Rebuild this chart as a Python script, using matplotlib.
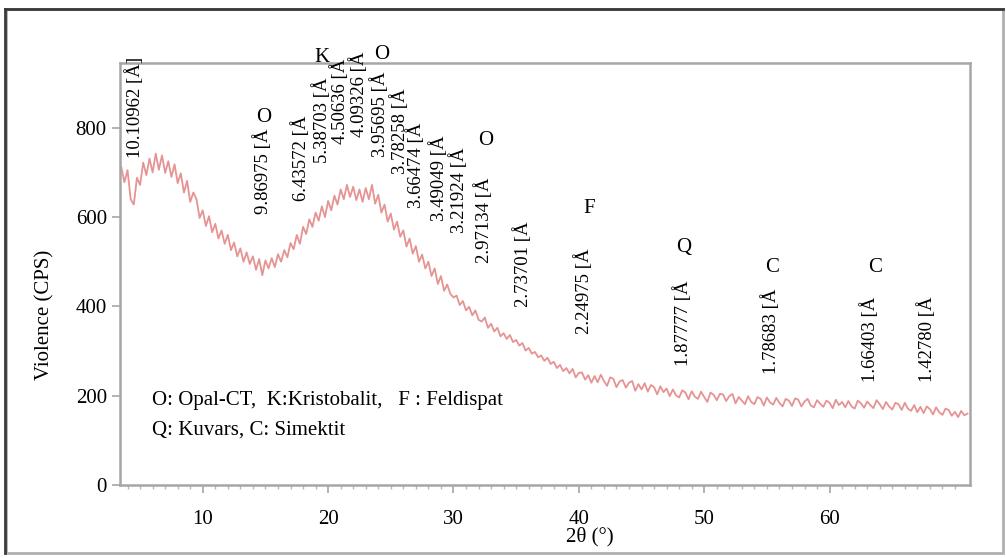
import matplotlib
matplotlib.use('Agg')
import matplotlib.pyplot as plt
import numpy as np
from matplotlib.patches import Rectangle
from matplotlib.lines import Line2D

# XRD pattern, 0.25 deg steps from 3.5 to 71.0
two_theta = np.arange(3.5, 71.0 + 0.001, 0.25)
cps = [
   712, 678, 705, 640, 628, 688, 672, 722,
   694, 731, 700, 742, 706, 738, 699, 725,
   690, 718, 676, 698, 655, 681, 634, 655,
   640, 598, 615, 580, 602, 566, 585, 552,
   570, 540, 560, 526, 543, 512, 530, 500,
   521, 495, 512, 482, 506, 470, 503, 485,
   508, 488, 517, 500, 526, 510, 542, 528,
   560, 540, 578, 562, 595, 578, 610, 592,
   624, 600, 636, 615, 648, 628, 662, 640,
   672, 645, 668, 638, 662, 634, 665, 640,
   672, 630, 650, 610, 628, 590, 608, 572,
   590, 556, 570, 534, 552, 518, 535, 500,
   516, 485, 500, 468, 485, 450, 468, 435,
   449, 428, 420, 424, 403, 412, 391, 399,
   380, 391, 370, 366, 375, 352, 361, 344,
   352, 333, 340, 327, 336, 320, 325, 312,
   318, 301, 307, 294, 298, 286, 290, 278,
   285, 271, 276, 262, 269, 255, 262, 250,
   260, 241, 251, 252, 236, 246, 229, 244,
   230, 247, 233, 222, 241, 238, 219, 232,
   235, 218, 229, 233, 211, 226, 214, 228,
   209, 224, 219, 203, 221, 208, 216, 199,
   214, 201, 196, 212, 207, 192, 210, 198,
   193, 209, 197, 186, 207, 202, 190, 204,
   203, 188, 199, 204, 183, 197, 189, 181,
   199, 186, 181, 197, 193, 178, 196, 185,
   180, 195, 184, 176, 193, 189, 177, 194,
   191, 176, 187, 193, 178, 174, 190, 182,
   175, 189, 184, 172, 191, 179, 186, 174,
   188, 176, 171, 189, 183, 173, 187, 179,
   172, 190, 181, 170, 186, 176, 169, 184,
   181, 168, 184, 171, 166, 179, 163, 175,
   161, 176, 170, 158, 174, 163, 157, 171,
   168, 155, 164, 152, 166, 156, 160,
]

# peak labels: d-spacing text, 2theta position, top of label (CPS)
peak_text = ['10.10962 [Å]', '9.86975 [Å', '6.43572 [Å', '5.38703 [Å', '4.50636 [Å',
             '4.09326 [Å', '3.95695 [Å', '3.78258 [Å', '3.66474 [Å', '3.49049 [Å',
             '3.21924 [Å', '2.97134 [Å', '2.73701 [Å', '2.24975 [Å', '1.87777 [Å',
             '1.78683 [Å', '1.66403 [Å', '1.42780 [Å']
peak_x = [4.6, 14.8, 17.8, 19.5, 20.9, 22.4, 24.1, 25.7, 27.0, 28.8,
          30.4, 32.4, 35.5, 40.4, 48.3, 55.3, 63.2, 67.7]
peak_top = [958, 798, 828, 913, 954, 970, 926, 889, 811, 782,
            757, 690, 591, 531, 459, 441, 421, 423]

# phase letters
phase_text = ['K', 'O', 'O', 'O', 'F', 'Q', 'C', 'C']
phase_x = [19.5, 24.3, 14.9, 32.6, 40.8, 48.4, 55.4, 63.6]
phase_y = [958, 963, 824, 772, 620, 531, 488, 486]

legend_lines = ['O: Opal-CT,  K:Kristobalit,   F : Feldispat',
                'Q: Kuvars, C: Simektit']

plt.rcParams['font.family'] = ['Liberation Serif', 'DejaVu Serif']

fig = plt.figure(figsize=(10.06, 5.58), dpi=100)
ax = fig.add_axes([0.1193, 0.1308, 0.8449, 0.7563])

ax.plot(two_theta, cps, color='#d64b4b', lw=1.3, alpha=0.6)

for t, x, y in zip(peak_text, peak_x, peak_top):
   ax.text(x, y, t, rotation=90, ha='center', va='top', fontsize=13.5, clip_on=False)
for t, x, y in zip(phase_text, phase_x, phase_y):
   ax.text(x, y, t, ha='center', va='center', fontsize=15, clip_on=False)

ax.text(5.95, 190, legend_lines[0], ha='left', va='center', fontsize=15)
ax.text(5.95, 123, legend_lines[1], ha='left', va='center', fontsize=15)

ax.set_xlim(3.4, 71.2)
ax.set_ylim(0, 945)
ax.set_xticks([10, 20, 30, 40, 50, 60])
ax.set_xticks(np.arange(4, 71, 1), minor=True)
ax.set_yticks([0, 200, 400, 600, 800])

for s in ax.spines.values():
   s.set_color('#a6a6a6')
   s.set_linewidth(1.8)
ax.tick_params(axis='both', which='major', colors='#a6a6a6', labelcolor='black',
               labelsize=15, length=6, width=1.2)
ax.tick_params(axis='x', which='major', pad=12)
ax.tick_params(axis='x', which='minor', colors='#b8b8b8', length=3, width=1)

fig.text(590 / 1006, 1 - 537 / 558, '2θ (°)', ha='center', va='center', fontsize=15)
fig.text(45 / 1006, 1 - 315 / 558, 'Violence (CPS)', ha='center', va='center',
         rotation=90, fontsize=15)

# outer window frame
fig.add_artist(Rectangle((6 / 1006, 1 - 553 / 558), 997 / 1006, 544 / 558,
                         transform=fig.transFigure, fill=False,
                         edgecolor='#b0b0b0', lw=2))
fig.add_artist(Line2D([5 / 1006, 5 / 1006], [1 - 553 / 558, 1 - 9 / 558],
                      transform=fig.transFigure, color='#3a3a3a', lw=2))
fig.add_artist(Line2D([5 / 1006, 1003 / 1006], [1 - 9 / 558, 1 - 9 / 558],
                      transform=fig.transFigure, color='#3a3a3a', lw=2))

plt.savefig('out.png', dpi=100)
plt.close()
